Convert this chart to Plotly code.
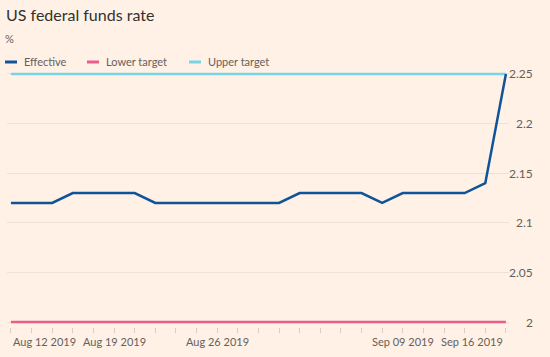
import plotly.graph_objects as go

# ---- data ----
dates = ["2019-08-12", "2019-08-13", "2019-08-14", "2019-08-15", "2019-08-16",
         "2019-08-19", "2019-08-20", "2019-08-21", "2019-08-22", "2019-08-23",
         "2019-08-26", "2019-08-27", "2019-08-28", "2019-08-29", "2019-08-30",
         "2019-09-03", "2019-09-04", "2019-09-05", "2019-09-06",
         "2019-09-09", "2019-09-10", "2019-09-11", "2019-09-12", "2019-09-13",
         "2019-09-16"]
effective = [2.12, 2.12, 2.12, 2.13, 2.13,
             2.13, 2.13, 2.12, 2.12, 2.12,
             2.12, 2.12, 2.12, 2.12, 2.13,
             2.13, 2.13, 2.13, 2.12,
             2.13, 2.13, 2.13, 2.13, 2.14,
             2.25]
lower_target = [2.00] * len(dates)
upper_target = [2.25] * len(dates)

series_names = ["Effective", "Lower target", "Upper target"]
x_tick_dates = ["2019-08-12", "2019-08-19", "2019-08-26", "2019-09-09", "2019-09-16"]
x_tick_labels = ["Aug 12 2019", "Aug 19 2019", "Aug 26 2019", "Sep 09 2019", "Sep 16 2019"]
y_tick_vals = [2.0, 2.05, 2.1, 2.15, 2.2, 2.25]
y_tick_labels = ["2", "2.05", "2.1", "2.15", "2.2", "2.25"]

# ---- style ----
BG = "#FFF1E5"
BLUE = "#0F5499"
PINK = "#EB5C8A"
CYAN = "#78D5E6"
GREY = "#66605C"
FONT = "Lato"

W, H = 550, 357
ML, MR, MT, MB = 7, 41, 69, 30
PW = W - ML - MR
PH = H - MT - MB


def px_x(p):
    return (p - ML) / PW


def px_y(p):
    return 1 - (p - MT) / PH


fig = go.Figure()
fig.add_trace(go.Scatter(x=dates, y=upper_target, mode="lines", name=series_names[2],
                         line=dict(color=CYAN, width=2.5), showlegend=False))
fig.add_trace(go.Scatter(x=dates, y=lower_target, mode="lines", name=series_names[1],
                         line=dict(color=PINK, width=2.5), showlegend=False))
fig.add_trace(go.Scatter(x=dates, y=effective, mode="lines", name=series_names[0],
                         line=dict(color=BLUE, width=2.5), showlegend=False))

annotations = []
# x tick labels
anchors = ["left", "center", "center", "center", "right"]
for d, lab, an in zip(x_tick_dates, x_tick_labels, anchors):
    annotations.append(dict(x=d, y=0, xref="x", yref="paper", text=lab, showarrow=False,
                            xanchor=an, yanchor="top", yshift=-6, xshift=(-1 if an == "right" else 0),
                            font=dict(family=FONT, size=11, color=GREY)))
# y tick labels (right-aligned, outside the plot on the right)
for v, lab in zip(y_tick_vals, y_tick_labels):
    annotations.append(dict(x=px_x(535), y=v, xref="paper", yref="y", text=lab,
                            showarrow=False, xanchor="right", yanchor="middle",
                            font=dict(family=FONT, size=12, color=GREY)))
# title & unit
annotations.append(dict(x=px_x(4), y=px_y(14), xref="paper", yref="paper",
                        text="US federal funds rate", showarrow=False, xanchor="left",
                        yanchor="middle", font=dict(family=FONT, size=16, color="#33302E")))
annotations.append(dict(x=px_x(3), y=px_y(38), xref="paper", yref="paper",
                        text="%", showarrow=False, xanchor="left",
                        yanchor="middle", font=dict(family=FONT, size=11, color=GREY)))

# legend (swatch + label)
legend_items = [(series_names[0], BLUE, 5), (series_names[1], PINK, 87), (series_names[2], CYAN, 189)]
shapes = []
for name, col, x0 in legend_items:
    shapes.append(dict(type="line", xref="paper", yref="paper",
                       x0=px_x(x0), x1=px_x(x0 + 12), y0=px_y(62), y1=px_y(62),
                       line=dict(color=col, width=3)))
    annotations.append(dict(x=px_x(x0 + 17), y=px_y(62), xref="paper", yref="paper",
                            text=name, showarrow=False, xanchor="left", yanchor="middle",
                            font=dict(family=FONT, size=11, color=GREY)))

fig.update_layout(
    width=W, height=H,
    margin=dict(l=ML, r=MR, t=MT, b=MB, autoexpand=False),
    paper_bgcolor=BG, plot_bgcolor=BG,
    showlegend=False,
    font=dict(family=FONT, size=12, color=GREY),
    annotations=annotations,
    shapes=shapes,
    xaxis=dict(type="category", range=[-0.19, len(dates) - 1 + 0.15],
               showgrid=False, zeroline=False, showline=False, automargin=False,
               ticks="outside", ticklen=5, tickcolor="#D9CCC1", tickwidth=1,
               showticklabels=False, fixedrange=True),
    yaxis=dict(range=[1.995, 2.255], side="right", automargin=False,
               tickvals=y_tick_vals, showticklabels=False,
               showgrid=True, gridcolor="#EFE1D5", gridwidth=1,
               zeroline=False, showline=False, ticks="", fixedrange=True),
)

fig.write_html(
    "out.html",
    config={"displayModeBar": False},
    post_script="document.body.style.margin='0';document.body.style.background='#FFF1E5';",
)
